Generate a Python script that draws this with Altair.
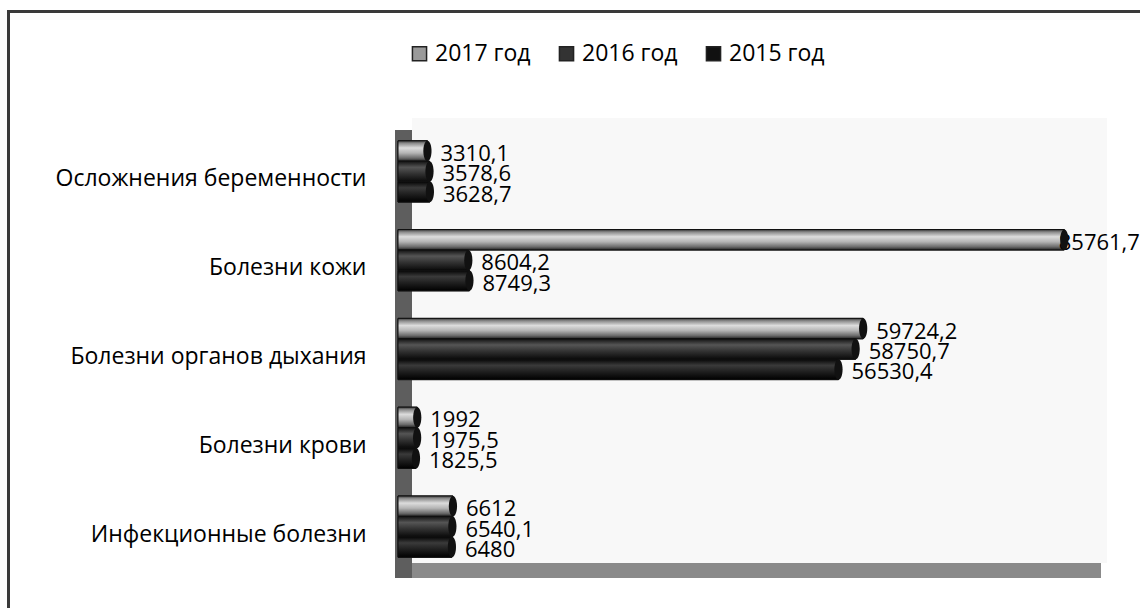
import altair as alt
import pandas as pd

categories = ["Осложнения беременности ", "Болезни кожи", "Болезни органов дыхания", "Болезни крови", "Инфекционные болезни"]
series = ["2017 год", "2016 год", "2015 год"]
v2017 = [3310.1, 85761.7, 59724.2, 1992, 6612]
v2016 = [3578.6, 8604.2, 58750.7, 1975.5, 6540.1]
v2015 = [3628.7, 8749.3, 56530.4, 1825.5, 6480]

rows = []
for s, vals in zip(series, [v2017, v2016, v2015]):
    for c, v in zip(categories, vals):
        rows.append({"category": c, "series": s, "value": v})
df = pd.DataFrame(rows)
one = pd.DataFrame({"k": [0]})

FONT = "Open Sans"
xscale = alt.Scale(domain=[-500, 90000], nice=False, zero=False)
yenc = alt.Y("category:N", sort=categories,
             scale=alt.Scale(paddingInner=0.31, paddingOuter=0.155),
             axis=alt.Axis(title=None, ticks=False, domain=False, labelFont=FONT,
                           labelFontSize=23, labelColor="black", labelPadding=32,
                           labelLimit=400, labelOffset=8))
yoff = alt.YOffset("series:N", sort=series, scale=alt.Scale(paddingInner=0, paddingOuter=0))

# decorative 3D-like backdrop
back = alt.Chart(one).mark_rect(color="#f8f8f8").encode(
    x=alt.value(14), x2=alt.value(709), y=alt.value(-9), y2=alt.value(436))
floor = alt.Chart(one).mark_rect(color="#8a8a8a").encode(
    x=alt.value(-3), x2=alt.value(703), y=alt.value(436), y2=alt.value(451))
wall = alt.Chart(one).mark_rect(color="#5e5e5e").encode(
    x=alt.value(-3), x2=alt.value(14), y=alt.value(3), y2=alt.value(451))

bars = alt.Chart(df).mark_bar(stroke="#111", strokeWidth=1).encode(
    y=yenc, yOffset=yoff,
    x=alt.X("value:Q", scale=xscale, axis=None), x2=alt.datum(-500),
    color=alt.Color("series:N", sort=series,
                    scale=alt.Scale(domain=series, range=["#9a9a9a", "#333333", "#111111"]),
                    legend=alt.Legend(title=None, orient="none", direction="horizontal",
                                      legendX=10, legendY=-85, symbolType="square",
                                      symbolSize=200, symbolStrokeColor="#222",
                                      symbolStrokeWidth=1.5, labelFont=FONT, labelFontSize=23,
                                      labelColor="black", columnPadding=24, labelOffset=4,
                                      symbolOpacity=1)))

grads = {
    "2017 год": [(0, "#3a3a3a"), (0.12, "#8a8a8a"), (0.35, "#dcdcdc"), (0.6, "#b4b4b4"), (0.85, "#6a6a6a"), (1, "#222222")],
    "2016 год": [(0, "#111111"), (0.3, "#555555"), (0.6, "#333333"), (1, "#0a0a0a")],
    "2015 год": [(0, "#050505"), (0.3, "#3a3a3a"), (0.6, "#202020"), (1, "#000000")],
}
glayers = []
for s in series:
    g = alt.Gradient(gradient="linear", x1=0, x2=0, y1=0, y2=1,
                     stops=[alt.GradientStop(offset=o, color=c) for o, c in grads[s]])
    glayers.append(
        alt.Chart(df).transform_filter(alt.datum.series == s)
        .mark_bar(fill=g, stroke="#111", strokeWidth=1)
        .encode(y=yenc, yOffset=yoff, x=alt.X("value:Q", scale=xscale, axis=None),
                x2=alt.datum(-500)))

caps = alt.Chart(df).mark_point(
    shape="M0,-1 A0.4,1 0 1,1 0,1 A0.4,1 0 1,1 0,-1 Z",
    filled=True, size=420, color="#111111", opacity=1).encode(
    y=yenc, yOffset=yoff, x=alt.X("value:Q", scale=xscale, axis=None))

# labels that would run past the frame are pulled back over the bar end (as in the source)
labels = alt.Chart(df).transform_calculate(
    label="replace(toString(datum.value), '.', ',')",
    lx="datum.value > 80000 ? datum.value - 2400 : datum.value",
).mark_text(align="left", baseline="middle", dx=13, dy=3, font=FONT, fontSize=22,
            color="black").encode(
    y=yenc, yOffset=yoff, x=alt.X("lx:Q", scale=xscale, axis=None), text="label:N")

border = alt.Chart(one).mark_rect(fill=None, stroke="#3a3a3a", strokeWidth=3).encode(
    x=alt.value(-389.5), x2=alt.value(760), y=alt.value(-115.5), y2=alt.value(500))

chart = alt.layer(back, floor, wall, bars, *glayers, labels, caps, border).properties(
    width=699, height=444,
    autosize=alt.AutoSizeParams(type="none"),
    padding={"left": 398, "top": 127, "right": 43, "bottom": 37},
    background="white",
).configure_view(stroke=None)

chart.save("out.html", embed_options={"renderer": "svg", "actions": False})
